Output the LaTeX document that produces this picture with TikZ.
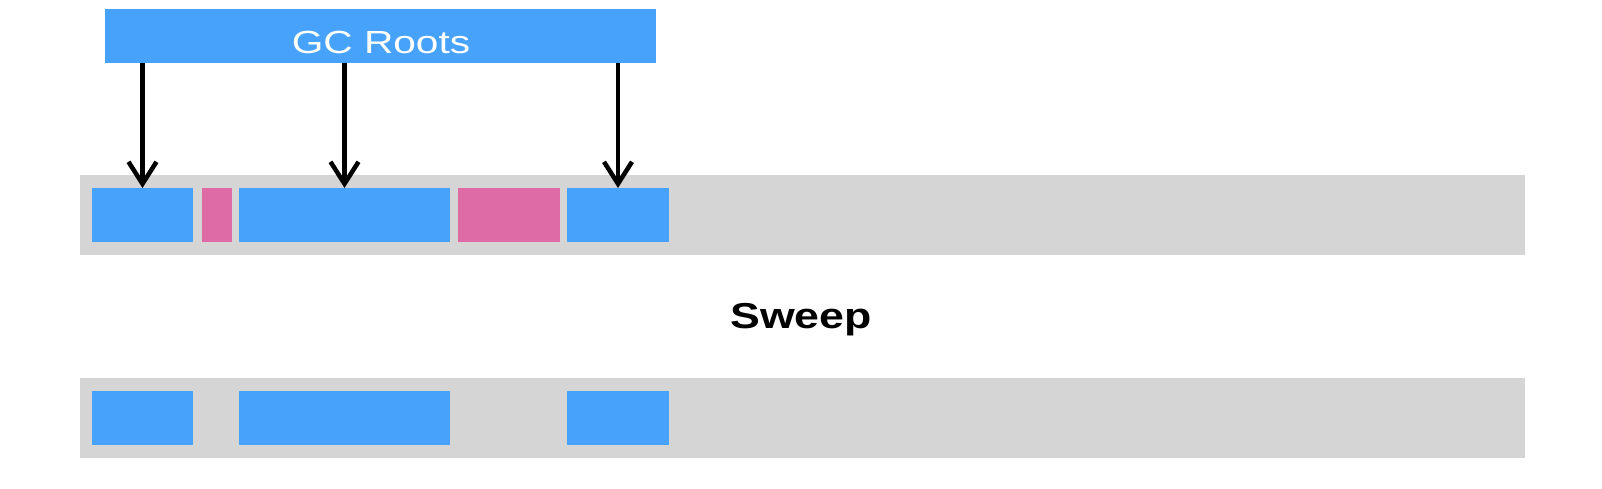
\documentclass[tikz,border=0pt]{standalone}
\usepackage{fontspec}
\usepackage{graphicx}
\setmainfont{Liberation Sans}
\usetikzlibrary{arrows.meta}
\definecolor{objblue}{RGB}{70,162,250}
\definecolor{objpink}{RGB}{222,107,165}
\definecolor{heapgray}{RGB}{213,213,213}
\begin{document}
\begin{tikzpicture}[x=1pt,y=-1pt,
  box/.style={draw=none,inner sep=0pt,outer sep=0pt,anchor=north west},
  live/.style={box,fill=objblue,minimum height=54pt},
  dead/.style={box,fill=objpink,minimum height=54pt},
  heap/.style={box,fill=heapgray,minimum width=1445pt,minimum height=80pt},
  ref/.style={line width=4.5pt,-{Straight Barb[length=22pt,width=28pt,line width=4.5pt]}}
]
\useasboundingbox (0,0) rectangle (1602,488);
% GC roots
\node[box,fill=objblue,minimum width=551pt,minimum height=54pt] (gc) at (105,9) {};
\node[anchor=base,text=white,font=\fontsize{32}{36}\selectfont,inner sep=0pt] (gclabel) at (381,53) {\scalebox{1.27}[1]{GC Roots}};
% heap before
\node[heap] (heapA) at (80,175) {};
\node[live,minimum width=101pt] (a1) at (92,188) {};
\node[dead,minimum width=30pt] (a2) at (202,188) {};
\node[live,minimum width=211pt] (a3) at (239,188) {};
\node[dead,minimum width=102pt] (a4) at (458,188) {};
\node[live,minimum width=102pt] (a5) at (567,188) {};
% arrows
\draw[ref] (gc.south -| a1.north) -- (a1.north);
\draw[ref] (gc.south -| a3.north) -- (a3.north);
\draw[ref] (gc.south -| a5.north) -- (a5.north);
% label
\node[anchor=base,font=\bfseries\fontsize{36}{40}\selectfont,inner sep=0pt] (sweep) at (801,328) {\scalebox{1.24}[1]{Sweep}};
% heap after
\node[heap] (heapB) at (80,378) {};
\node[live,minimum width=101pt] (b1) at (92,391) {};
\node[live,minimum width=211pt] (b3) at (239,391) {};
\node[live,minimum width=102pt] (b5) at (567,391) {};
\end{tikzpicture}
\end{document}
